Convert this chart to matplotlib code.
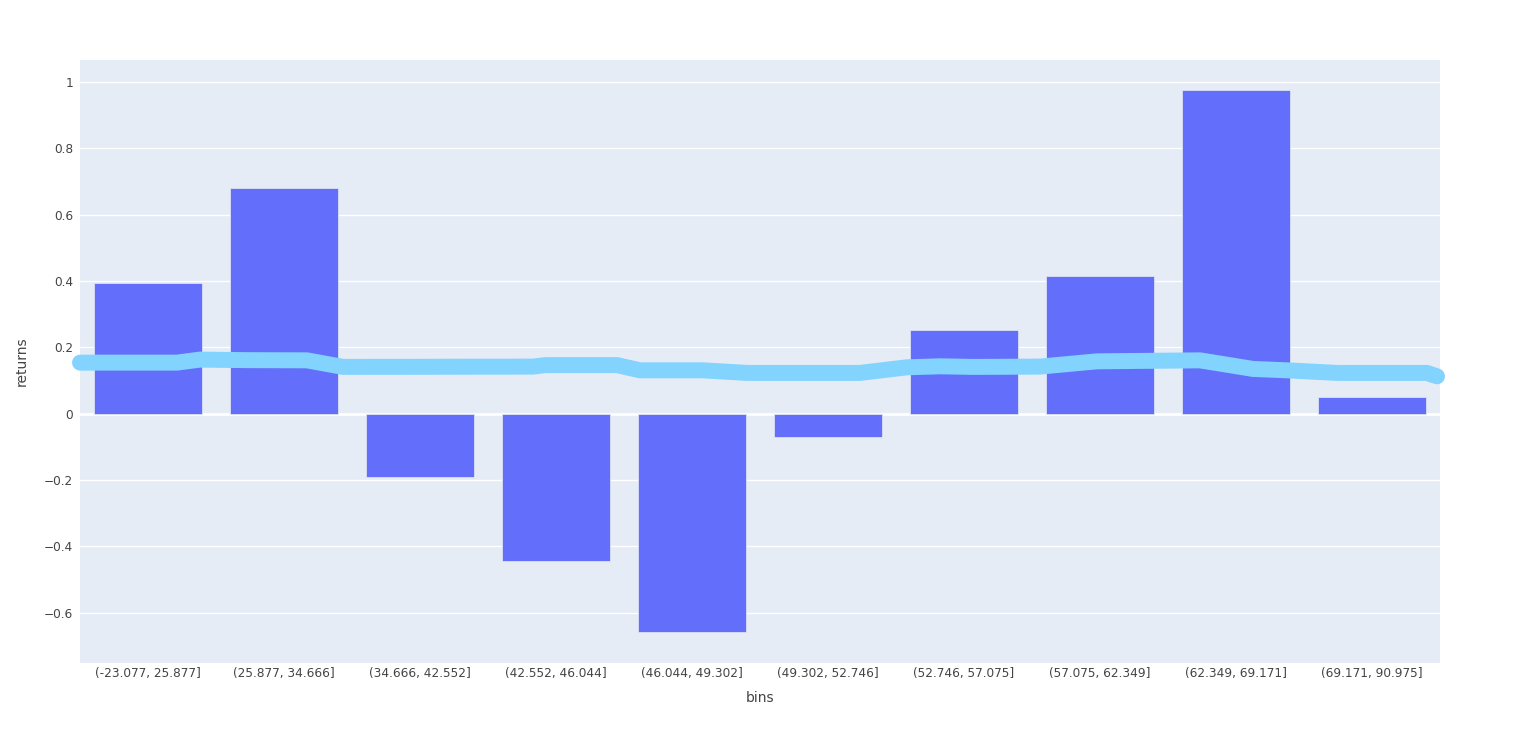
import matplotlib
matplotlib.use("Agg")
import matplotlib.pyplot as plt
from matplotlib.ticker import FixedLocator

plt.rcParams['font.family'] = ['DejaVu Sans']

categories = ["(-23.077, 25.877]", "(25.877, 34.666]", "(34.666, 42.552]",
              "(42.552, 46.044]", "(46.044, 49.302]", "(49.302, 52.746]",
              "(52.746, 57.075]", "(57.075, 62.349]", "(62.349, 69.171]",
              "(69.171, 90.975]"]
returns = [0.395, 0.681, -0.190, -0.443, -0.660, -0.072, 0.253, 0.416, 0.976, 0.051]

# continuous trend line (x in category units)
line_x = [-0.5, 0.213, 0.382, 0.728, 1.169, 1.434, 2.831, 2.919, 3.449, 3.618,
          4.081, 4.404, 5.235, 5.581, 5.824, 6.066, 6.559, 6.978, 7.735, 8.125,
          8.375, 8.743, 9.404, 9.478]
line_y = [0.1536, 0.1536, 0.1627, 0.1611, 0.1605, 0.1407, 0.1416, 0.1461, 0.1461, 0.1304,
          0.1304, 0.1226, 0.1226, 0.1395, 0.1425, 0.1407, 0.1416, 0.1575, 0.1605, 0.1346,
          0.1304, 0.1226, 0.1226, 0.1123]

yticks = [-0.6, -0.4, -0.2, 0, 0.2, 0.4, 0.6, 0.8, 1]

W, H = 1520, 744
fig = plt.figure(figsize=(W / 100, H / 100), dpi=100)
fig.patch.set_facecolor('white')
ax = fig.add_axes([80 / W, 1 - 663 / H, 1360 / W, 603 / H])
ax.set_facecolor('#E5ECF6')

xs = list(range(len(categories)))
ax.bar(xs, returns, width=0.8, color='#636EFA', edgecolor='#E5ECF6', linewidth=0.5, zorder=3)
ax.plot(line_x, line_y, color='#82D3FD', linewidth=11.5, solid_capstyle='round',
        solid_joinstyle='round', zorder=4, clip_on=False)

ax.set_xlim(-0.5, 9.5)
ax.set_ylim(-0.752, 1.066)
ax.set_xticks(xs)
ax.set_xticklabels(categories)
ax.yaxis.set_major_locator(FixedLocator(yticks))
ax.set_yticklabels(['\u22120.6', '\u22120.4', '\u22120.2', '0', '0.2', '0.4', '0.6', '0.8', '1'])

for y in yticks:
    if y != 0:
        ax.axhline(y, color='white', linewidth=1, zorder=1)
ax.axhline(0, color='white', linewidth=2, zorder=2)

for s in ax.spines.values():
    s.set_visible(False)
ax.tick_params(axis='both', length=0, labelsize=8.7, colors='#444444')
ax.tick_params(axis='y', pad=5)
ax.tick_params(axis='x', pad=3)

ax.set_xlabel('bins', fontsize=10, color='#444444', labelpad=8)
ax.set_ylabel('returns', fontsize=10, color='#444444', labelpad=11)

fig.savefig('out.png', dpi=100, facecolor='white')
